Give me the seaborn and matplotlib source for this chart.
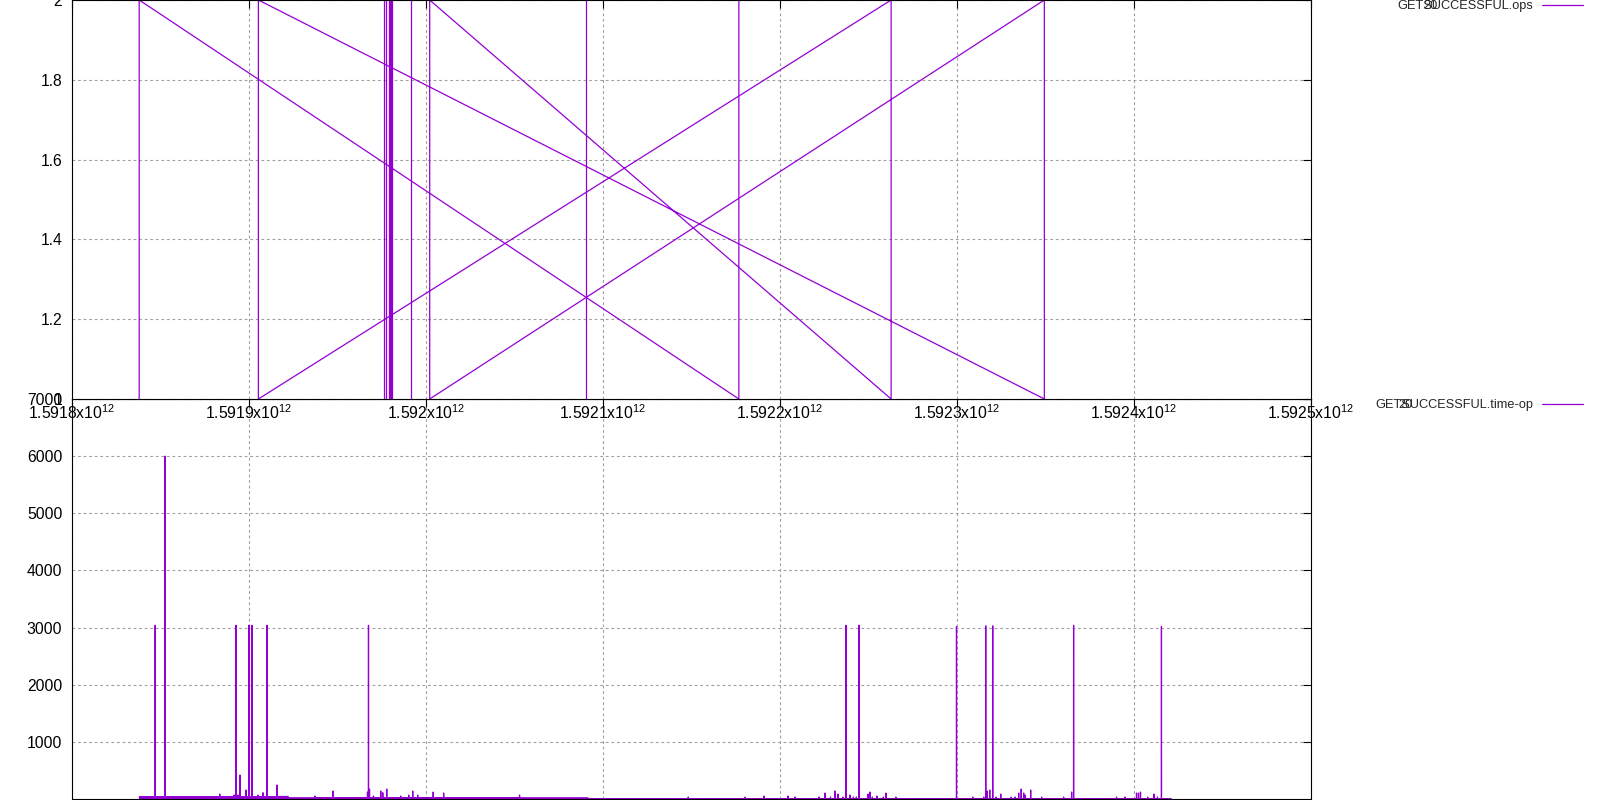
import pandas as pd
import seaborn as sns
import matplotlib.pyplot as plt

# x axis, epoch milliseconds
x_ticks = [1.5918e12, 1.5919e12, 1.592e12, 1.5921e12, 1.5922e12, 1.5923e12, 1.5924e12, 1.5925e12]
x_tick_labels = ['1.5918x10$^{12}$', '1.5919x10$^{12}$', '1.592x10$^{12}$', '1.5921x10$^{12}$',
                 '1.5922x10$^{12}$', '1.5923x10$^{12}$', '1.5924x10$^{12}$', '1.5925x10$^{12}$']

# GET SUCCESSFUL.ops - rows in file order, run = unbroken stretch of line
ops_time = [1591837960000, 1591837960000, 1592176760000, 1592176760000,
            1591905300000, 1592262780000, 1592262780000, 1592002090000, 1592002090000,
            1592349350000, 1592349350000, 1591905300000, 1591905300000,
            1591976540000, 1591976540000, 1591977660000, 1591977660000,
            1591979070000, 1591979070000, 1591979640000, 1591979640000,
            1591980200000, 1591980200000, 1591980770000, 1591980770000,
            1591991370000, 1591991370000, 1592090470000, 1592090470000]
ops_value = [1, 2, 1, 2,
             1, 2, 1, 2, 1, 2, 1, 2, 1,
             1, 2, 1, 2, 1, 2, 1, 2, 1, 2, 1, 2, 1, 2, 1, 2]
ops_run = [0, 0, 0, 0,
           1, 1, 1, 1, 1, 1, 1, 1, 1,
           2, 2, 3, 3, 4, 4, 5, 5, 6, 6, 7, 7, 8, 8, 9, 9]

# GET SUCCESSFUL.time-op - the dense low band and the spikes on top of it
band_start = [1591837960000, 1591922450000, 1592091660000]
band_end = [1591922390000, 1592091600000, 1592420980000]
band_top = [55, 30, 12]
sample_ms = 60000

spike_time = [1591846980000, 1591852620000, 1591883470000, 1591891540000, 1591892670000,
              1591893800000, 1591894920000, 1591898310000, 1591900000000, 1591901690000,
              1591905080000, 1591907900000, 1591910150000, 1591915790000,
              1591937230000, 1591947380000, 1591966950000, 1591967510000, 1591968080000,
              1591970330000, 1591974450000, 1591975580000, 1591977830000, 1591985730000,
              1591990240000, 1591992500000, 1591995320000, 1592004060000, 1592009980000,
              1592052850000,
              1592148170000, 1592180320000, 1592191040000, 1592204570000, 1592208520000,
              1592222060000, 1592225440000, 1592228490000, 1592231080000, 1592232770000,
              1592235590000, 1592237280000, 1592239540000, 1592241460000, 1592243150000,
              1592244620000, 1592249690000, 1592250820000, 1592252170000, 1592254770000,
              1592258380000, 1592259840000, 1592265480000, 1592299720000, 1592308910000,
              1592315120000, 1592316240000, 1592317090000, 1592318500000, 1592320190000,
              1592322110000, 1592324710000, 1592330630000, 1592332830000, 1592334860000,
              1592336270000, 1592337680000, 1592338640000, 1592341630000, 1592347830000,
              1592360240000, 1592364750000, 1592365880000, 1592390140000, 1592394930000,
              1592401420000, 1592402540000, 1592403670000, 1592407730000, 1592411290000,
              1592413260000, 1592415510000]
spike_value = [3040, 6000, 87, 70, 3040,
               70, 420, 157, 3040, 3040,
               70, 110, 3040, 245,
               52, 140, 122, 3040, 175,
               52, 140, 110, 175, 52,
               70, 140, 70, 122, 105,
               70,
               35, 35, 52, 52, 35,
               35, 105, 35, 140, 87,
               35, 3040, 70, 35, 35,
               3040, 87, 122, 35, 52,
               35, 105, 35, 3020, 35,
               35, 3030, 140, 157, 3030,
               35, 87, 35, 35, 105,
               175, 105, 70, 157, 35,
               35, 122, 3040, 35, 35,
               105, 105, 122, 35, 87,
               35, 3020]

purple = '#9400d3'

ops = pd.DataFrame({'time': ops_time, 'value': ops_value, 'run': ops_run})

rows = []
for start, end, top in zip(band_start, band_end, band_top):
    rows += [(start, 0), (start, top), (end, 0), (end, top)]
    for t, v in zip(spike_time, spike_value):
        if start < t < end:
            rows += [(t - sample_ms, 0), (t - sample_ms, top), (t, v),
                     (t + sample_ms, 0), (t + sample_ms, top)]
lat = pd.DataFrame(rows, columns=['time', 'value'])

sns.set_style('white')
plt.rcParams['font.family'] = ['Liberation Sans', 'DejaVu Sans']
plt.rcParams['mathtext.default'] = 'regular'

fig = plt.figure(figsize=(16, 8), dpi=100)
ax_b = fig.add_axes([72 / 1600, 1 / 800, 1239 / 1600, 400 / 800])
ax_t = fig.add_axes([72 / 1600, 401 / 800, 1239 / 1600, 399 / 800])

sns.lineplot(data=ops, x='time', y='value', units='run', estimator=None, sort=False,
             color=purple, linewidth=0.9, ax=ax_t, legend=False)
sns.lineplot(data=lat, x='time', y='value', estimator='mean', errorbar=('pi', 100),
             err_kws={'alpha': 1, 'linewidth': 0}, color=purple, linewidth=0.9, ax=ax_b)

grid_kw = dict(color='#a0a0a0', linestyle=(0, (2.5, 2.5)), linewidth=0.8)
for ax in (ax_t, ax_b):
    ax.set_xlim(1.5918e12, 1.5925e12)
    ax.set_xlabel('')
    ax.set_ylabel('')
    ax.grid(True, **grid_kw)
    ax.set_axisbelow(True)
    for s in ax.spines.values():
        s.set_color('black')
        s.set_linewidth(0.8)
    ax.tick_params(direction='in', length=5.5, width=0.8, top=True, right=True,
                   colors='black', labelsize=11.3)
    ax.tick_params(axis='y', pad=7)

ax_t.set_ylim(1, 2)
ax_t.set_yticks([1, 1.2, 1.4, 1.6, 1.8, 2], ['1', '1.2', '1.4', '1.6', '1.8', '2'])
ax_t.set_xticks(x_ticks, x_tick_labels)
ax_t.tick_params(axis='x', pad=3)

ax_b.set_ylim(0, 7000)
ax_b.set_yticks([1000, 2000, 3000, 4000, 5000, 6000, 7000],
                ['1000', '2000', '3000', '4000', '5000', '6000', '7000'])
ax_b.set_xticks(x_ticks, [''] * len(x_ticks))

leg_kw = dict(loc='center right', bbox_transform=fig.transFigure, frameon=False,
              markerfirst=False, handlelength=3.2, handletextpad=0.7, borderpad=0,
              borderaxespad=0, fontsize=9.2)
ax_t.legend(handles=[ax_t.lines[0]], labels=['GETSUCCESSFUL.ops'],
            bbox_to_anchor=(1583 / 1600, 1 - 6 / 800), **leg_kw)
ax_b.legend(handles=[ax_b.lines[0]], labels=['GETSUCCESSFUL.time-op'],
            bbox_to_anchor=(1583 / 1600, 1 - 405 / 800), **leg_kw)
fig.text(1423 / 1600, 1 - 6 / 800, '20', fontsize=9.2, ha='left', va='center')
fig.text(1398 / 1600, 1 - 405 / 800, '20', fontsize=9.2, ha='left', va='center')

fig.savefig('out.png', dpi=100, facecolor='white')
